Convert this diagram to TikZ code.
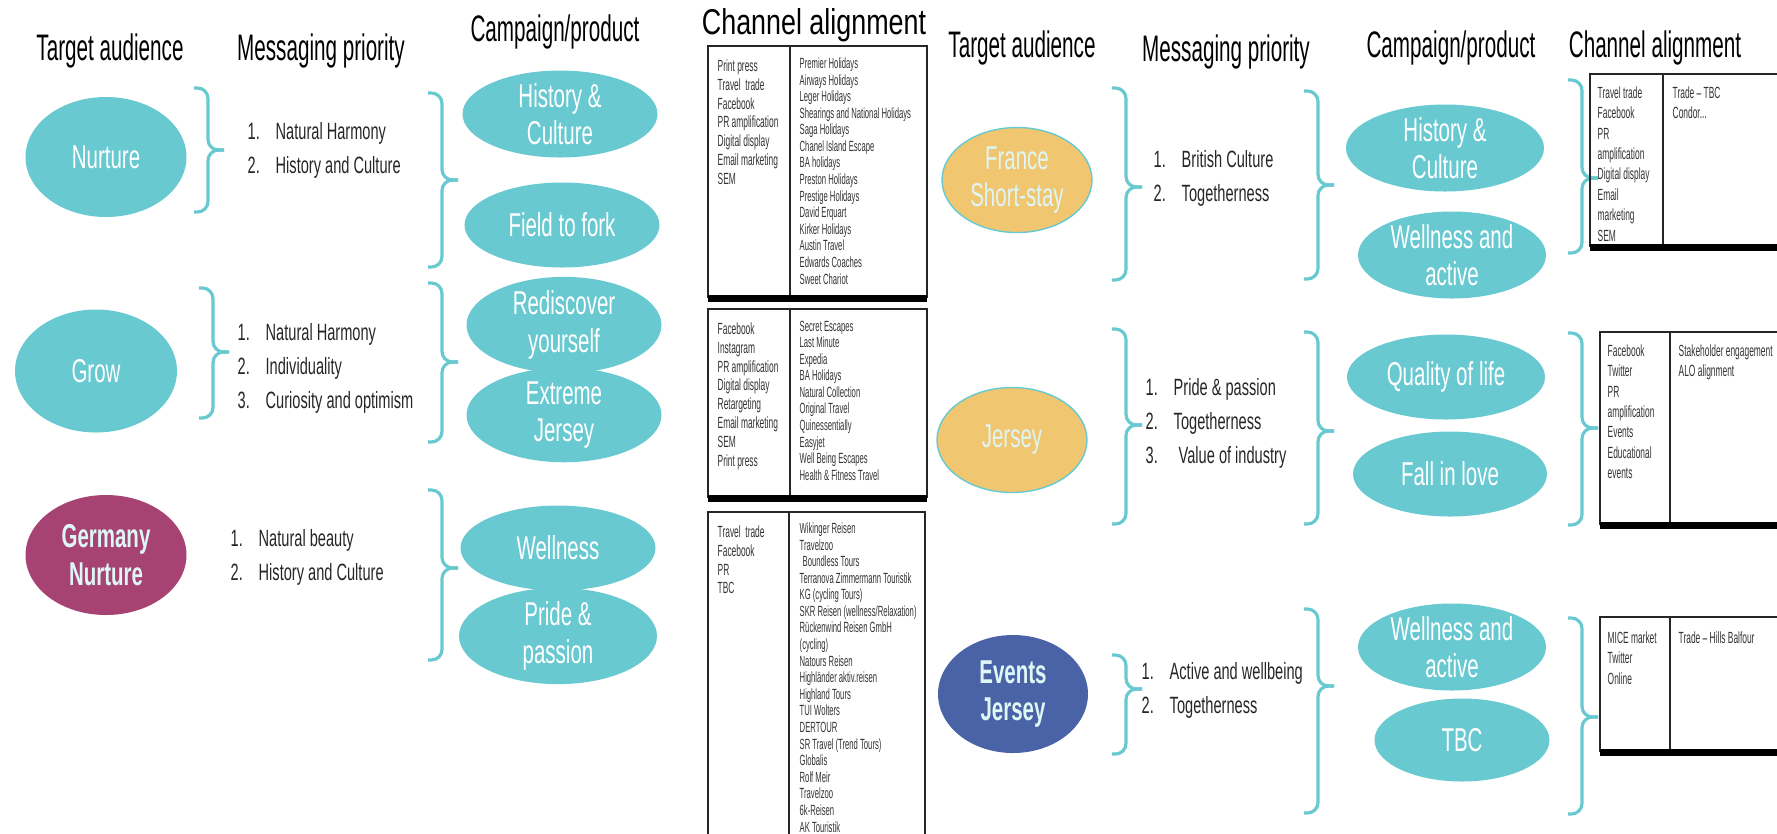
\documentclass[tikz,border=0pt]{standalone}
\usepackage{fontspec}
\setmainfont{Liberation Sans}[FakeStretch=0.62]
\newfontfamily\headfont{Liberation Sans}[FakeStretch=0.56]
\newfontfamily\wideheadfont{Liberation Sans}[FakeStretch=0.75]
\newfontfamily\cellfont{Liberation Sans}[FakeStretch=0.52]
\usepackage{xcolor}
\usepackage{tikz}
\usetikzlibrary{shapes,positioning}
\definecolor{brand}{RGB}{104,201,208}
\definecolor{sand}{RGB}{240,198,112}
\definecolor{navy}{RGB}{74,99,166}
\definecolor{plum}{RGB}{166,67,114}
\definecolor{paletxt}{RGB}{222,246,246}

% brace: x of the stem, top, bottom, tip
\newcommand{\tbrace}[4]{%
  \draw[brc] (#1-0.14,#2) -- (#1,#2) -- (#1,#4) -- (#1+0.16,#4);
  \draw[brc] (#1+0.16,#4) -- (#1,#4) -- (#1,#3) -- (#1-0.14,#3);}
\newcommand{\itemno}[1]{\makebox[0.28cm][l]{#1}}

\begin{document}
\begin{tikzpicture}[
  head/.style={font=\headfont\fontsize{10.5}{12}\selectfont},
  aud/.style={ellipse,inner sep=0pt,minimum width=1.61cm,minimum height=1.2cm,align=center,text=white,font=\fontsize{9.4}{10.6}\selectfont},
  camp/.style={ellipse,fill=brand,inner sep=0pt,minimum width=1.95cm,minimum height=0.85cm,align=center,text=white,font=\fontsize{9.4}{10.6}\selectfont},
  msg/.style={anchor=west,align=left,inner sep=0pt,text=black!85,font=\fontsize{6.7}{9.7}\selectfont},
  cellL/.style={anchor=north west,align=left,inner sep=0pt,text=black!80,font=\cellfont\fontsize{4.6}{5.35}\selectfont},
  cellR/.style={anchor=north west,align=left,inner sep=0pt,text=black!80,font=\cellfont\fontsize{4.2}{4.72}\selectfont},
  cellW/.style={anchor=north west,align=left,inner sep=0pt,text=black!80,font=\cellfont\fontsize{4.6}{5.8}\selectfont},
  brc/.style={draw=brand,line width=0.9pt,rounded corners=3pt},
  grid/.style={draw=black!85,line width=0.5pt},
  base/.style={draw=black,line width=2pt}
]
\useasboundingbox (0,0) rectangle (17.77,-8.33);

% Headings
\node[head] (h1) at (1.10,-0.51)  {Target audience};
\node[head] (h2) at (3.21,-0.51)  {Messaging priority};
\node[head] (h3) at (5.55,-0.32)  {Campaign/product};
\node[head,font=\wideheadfont\fontsize{10.2}{12}\selectfont] (h4) at (8.14,-0.25) {Channel alignment};
\node[head] (h5) at (10.22,-0.48) {Target audience};
\node[head] (h6) at (12.26,-0.52) {Messaging priority};
\node[head] (h7) at (14.51,-0.48) {Campaign/product};
\node[head] (h8) at (16.55,-0.48) {Channel alignment};

% Target audience
\node[aud,fill=brand]                 (nu) at (1.06,-1.57) {Nurture};
\node[aud,fill=brand,minimum width=1.62cm,minimum height=1.23cm] (gr) at (0.96,-3.71) {Grow};
\node[aud,fill=plum,text=paletxt,font=\bfseries\fontsize{9.4}{10.6}\selectfont] (gn) at (1.06,-5.55) {Germany\\Nurture};
\node[aud,fill=sand,draw=brand,thin,text=paletxt,minimum width=1.5cm,minimum height=1.05cm] (fr) at (10.17,-1.80) {France\\Short-stay};
\node[aud,fill=sand,draw=brand,thin,text=paletxt,minimum width=1.5cm,minimum height=1.05cm] (je) at (10.12,-4.40) {Jersey};
\node[aud,fill=navy,text=paletxt,minimum width=1.5cm,minimum height=1.18cm,font=\bfseries\fontsize{9.4}{10.6}\selectfont] (ev) at (10.13,-6.94) {Events\\Jersey};

% Messaging priority
\node[msg] (m1) at (2.47,-1.50) {\itemno{1.}Natural Harmony\\\itemno{2.}History and Culture};
\node[msg] (m2) at (2.37,-3.68) {\itemno{1.}Natural Harmony\\\itemno{2.}Individuality\\\itemno{3.}Curiosity and optimism};
\node[msg] (m3) at (2.30,-5.57) {\itemno{1.}Natural beauty\\\itemno{2.}History and Culture};
\node[msg] (m4) at (11.53,-1.78) {\itemno{1.}British Culture\\\itemno{2.}Togetherness};
\node[msg] (m5) at (11.45,-4.23) {\itemno{1.}Pride \& passion\\\itemno{2.}Togetherness\\\itemno{3.}\hspace{0.05cm}Value of industry};
\node[msg] (m6) at (11.41,-6.90) {\itemno{1.}Active and wellbeing\\\itemno{2.}Togetherness};

% Campaign/product
\node[camp] (hc1) at (5.60,-1.14) {History \&\\Culture};
\node[camp] (ff)  at (5.62,-2.25) {Field to fork};
\node[camp] (rd)  at (5.64,-3.25) {Rediscover\\yourself};
\node[camp] (ej)  at (5.64,-4.15) {Extreme\\Jersey};
\node[camp] (we)  at (5.58,-5.48) {Wellness};
\node[camp,minimum width=1.98cm] (pp) at (5.58,-6.36) {Pride \&\\passion};
\node[camp,minimum width=1.98cm,minimum height=0.83cm] (hc2) at (14.45,-1.48) {History \&\\Culture};
\node[camp,minimum width=1.88cm,minimum height=0.84cm] (wa1) at (14.52,-2.55) {Wellness and\\active};
\node[camp,minimum width=1.98cm] (ql)  at (14.46,-3.77) {Quality of life};
\node[camp,minimum width=1.94cm] (fl)  at (14.50,-4.74) {Fall in love};
\node[camp,minimum width=1.88cm,minimum height=0.84cm] (wa2) at (14.52,-6.47) {Wellness and\\active};
\node[camp,minimum width=1.75cm,minimum height=0.83cm] (tbc) at (14.62,-7.40) {TBC};

% Braces
\tbrace{2.08}{-0.88}{-2.12}{-1.50}
\tbrace{2.13}{-2.88}{-4.18}{-3.52}
\tbrace{4.42}{-0.93}{-2.67}{-1.80}
\tbrace{4.42}{-2.83}{-4.42}{-3.62}
\tbrace{4.42}{-4.90}{-6.60}{-5.68}
\tbrace{11.26}{-0.88}{-2.80}{-1.87}
\tbrace{11.26}{-3.29}{-5.24}{-4.25}
\tbrace{11.26}{-6.55}{-7.54}{-6.89}
\tbrace{13.18}{-0.91}{-2.79}{-1.85}
\tbrace{13.18}{-3.32}{-5.24}{-4.31}
\tbrace{13.18}{-6.09}{-8.13}{-6.86}
\tbrace{15.82}{-0.80}{-2.53}{-1.78}
\tbrace{15.82}{-3.33}{-5.25}{-4.28}
\tbrace{15.82}{-6.18}{-8.14}{-7.17}

% Channel alignment tables
\draw[grid] (7.08,-2.98) -- (7.08,-0.46) -- (9.27,-0.46) -- (9.27,-2.98);
\draw[grid] (7.90,-0.46) -- (7.90,-2.98);
\draw[base] (7.08,-2.98) -- (9.27,-2.98);
\node[cellL] (t1l) at (7.17,-0.59) {Print press\\Travel~ trade\\Facebook\\PR amplification\\Digital display\\Email marketing\\SEM};
\node[cellR] (t1r) at (7.99,-0.57) {Premier Holidays\\Airways Holidays\\Leger Holidays\\Shearings and National Holidays\\Saga Holidays\\Chanel Island Escape\\BA holidays\\Preston Holidays\\Prestige Holidays\\David Erquart\\Kirker Holidays\\Austin Travel\\Edwards Coaches\\Sweet Chariot};

\draw[grid] (7.08,-4.98) -- (7.08,-3.09) -- (9.27,-3.09) -- (9.27,-4.98);
\draw[grid] (7.90,-3.09) -- (7.90,-4.98);
\draw[base] (7.08,-4.98) -- (9.27,-4.98);
\node[cellL] (t2l) at (7.17,-3.22) {Facebook\\Instagram\\PR amplification\\Digital display\\Retargeting\\Email marketing\\SEM\\Print press};
\node[cellR] (t2r) at (7.99,-3.20) {Secret Escapes\\Last Minute\\Expedia\\BA Holidays\\Natural Collection\\Original Travel\\Quinessentially\\Easyjet\\Well Being Escapes\\Health \& Fitness Travel};

\draw[grid] (7.08,-8.40) -- (7.08,-5.12) -- (9.25,-5.12) -- (9.25,-8.40);
\draw[grid] (7.89,-5.12) -- (7.89,-8.40);
\node[cellL] (t3l) at (7.17,-5.25) {Travel~ trade\\Facebook\\PR\\TBC};
\node[cellR] (t3r) at (7.99,-5.22) {Wikinger Reisen\\Travelzoo\\\hspace{0.03cm}Boundless Tours\\Terranova Zimmermann Touristik\\KG (cycling Tours)\\SKR Reisen (wellness/Relaxation)\\Rückenwind Reisen GmbH\\(cycling)\\Natours Reisen\\Highländer aktiv.reisen\\Highland Tours\\TUI Wolters\\DERTOUR\\SR Travel (Trend Tours)\\Globalis\\Rolf Meir\\Travelzoo\\6k-Reisen\\AK Touristik};

\draw[grid] (15.90,-2.47) -- (15.90,-0.74) -- (17.80,-0.74);
\draw[grid] (16.63,-0.74) -- (16.63,-2.47);
\draw[base] (15.90,-2.47) -- (17.80,-2.47);
\node[cellW] (r1l) at (15.97,-0.86) {Travel trade\\Facebook\\PR\\amplification\\Digital display\\Email\\marketing\\SEM};
\node[cellW] (r1r) at (16.72,-0.86) {Trade \textendash{} TBC\\Condor...};

\draw[grid] (16.00,-5.25) -- (16.00,-3.32) -- (17.80,-3.32);
\draw[grid] (16.70,-3.32) -- (16.70,-5.25);
\draw[base] (16.00,-5.25) -- (17.80,-5.25);
\node[cellW] (r2l) at (16.07,-3.44) {Facebook\\Twitter\\PR\\amplification\\Events\\Educational\\events};
\node[cellW] (r2r) at (16.78,-3.44) {Stakeholder engagement\\ALO alignment};

\draw[grid] (16.00,-7.52) -- (16.00,-6.17) -- (17.80,-6.17);
\draw[grid] (16.70,-6.17) -- (16.70,-7.52);
\draw[base] (16.00,-7.52) -- (17.80,-7.52);
\node[cellW] (r3l) at (16.07,-6.31) {MICE market\\Twitter\\Online};
\node[cellW] (r3r) at (16.78,-6.31) {Trade \textendash{} Hills Balfour};
\end{tikzpicture}
\end{document}
